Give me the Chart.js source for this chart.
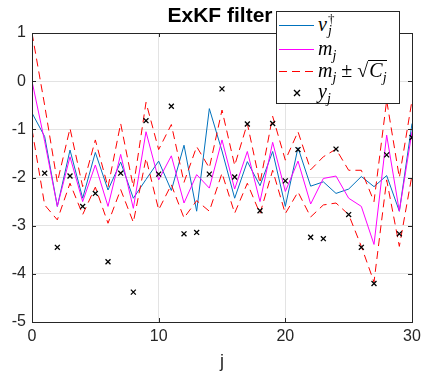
<!DOCTYPE html>
<html>
<head>
<meta charset="utf-8">
<script src="https://cdn.jsdelivr.net/npm/chart.js@4/dist/chart.umd.min.js"></script>
<style>
  html, body { margin: 0; padding: 0; background: #fff; }
  #wrap { position: relative; width: 422px; height: 377px; }
  #title { position: absolute; left: 30px; width: 380px; top: 3px; text-align: center;
           font: bold 21px "Liberation Sans", Arial, sans-serif; color: #000; }
  #legend { position: absolute; left: 276px; top: 11px; width: 124px; height: 93px; box-sizing: border-box;
            background: #fff; border: 1px solid #262626; font: italic 20px "Liberation Serif", "DejaVu Serif", serif; color: #000; }
  #legend svg { position: absolute; left: 0; top: 0; }
  .lbl { position: absolute; left: 41px; white-space: nowrap; line-height: 20px; height: 20px; }
  .lbl sub { font-size: 14px; vertical-align: -5px; }
  .up { font-style: normal; }
  .rad { border-top: 1px solid #000; display: inline-block; line-height: 19px; padding-left: 1px; }
  .ss { display: inline-block; position: relative; width: 8px; height: 20px; vertical-align: top; }
  .ss .a { position: absolute; left: 1px; top: -5px; font-size: 13px; font-style: normal; }
  .ss .b { position: absolute; left: 1px; top: 7px; font-size: 14px; }
</style>
</head>
<body>
<div id="wrap">
  <canvas id="c" width="422" height="377"></canvas>
  <div id="title">ExKF filter</div>
  <div id="legend">
    <svg width="124" height="93">
      <line x1="2" y1="13.5" x2="37" y2="13.5" stroke="#0072BD" stroke-width="1.2"/>
      <line x1="2" y1="37.5" x2="37" y2="37.5" stroke="#ff00ff" stroke-width="1.2"/>
      <line x1="2" y1="59.5" x2="37" y2="59.5" stroke="#ff0000" stroke-width="1.2" stroke-dasharray="8,5"/>
      <path d="M17,78 L23,84 M23,78 L17,84" stroke="#000" stroke-width="1.4"/>
    </svg>
    <div class="lbl" style="top:2px">v<span class="ss"><span class="a">†</span><span class="b">j</span></span></div>
    <div class="lbl" style="top:26px">m<sub>j</sub></div>
    <div class="lbl" style="top:48px">m<sub>j</sub> <span class="up">±</span> <span class="up">√</span><span class="rad">C<sub>j</sub></span></div>
    <div class="lbl" style="top:69px">y<sub>j</sub></div>
  </div>
</div>
<script>
// step index j
const steps = [0,1,2,3,4,5,6,7,8,9,10,11,12,13,14,15,16,17,18,19,20,21,22,23,24,25,26,27,28,29,30];
// true signal v_j^dagger
const truth = [-0.66,-1.15,-2.6,-1.43,-2.43,-1.48,-2.26,-1.68,-2.43,-2.04,-1.66,-2.27,-1.33,-2.7,-0.57,-1.45,-2.43,-1.67,-2.17,-1.46,-2.6,-1.38,-2.18,-2.09,-2.33,-2.24,-1.98,-2.19,-1.96,-2.7,-0.88];
// filter mean m_j
const mean = [0,-1.25,-2.6,-1.57,-2.5,-1.74,-2.6,-1.52,-2.64,-1.05,-2.05,-1.55,-2.53,-1.94,-2.22,-1.22,-2.24,-1.46,-2.5,-1.27,-2.29,-1.66,-2.55,-2.02,-1.97,-2.43,-2.6,-3.39,-1.12,-2.7,-1.05];
// m_j + sqrt(C_j)
const upper = [1.0,-0.5,-2.1,-0.98,-2.19,-1.22,-2.2,-0.88,-2.2,-0.44,-1.42,-0.9,-2.1,-1.36,-1.8,-0.6,-1.75,-0.88,-2.12,-0.73,-1.64,-1.05,-1.84,-1.57,-1.41,-1.85,-1.85,-2.5,-0.4,-2.0,-0.4];
// m_j - sqrt(C_j)
const lower = [-1.0,-2.57,-2.88,-2.12,-2.77,-2.2,-2.95,-2.25,-2.93,-1.6,-2.67,-2.15,-2.84,-2.48,-2.7,-1.91,-2.74,-2.12,-2.75,-1.85,-2.75,-2.3,-2.82,-2.57,-2.53,-2.77,-3.43,-4.17,-2.05,-3.43,-1.95];
// observations y_j (j = 1..30)
const obsSteps = [1,2,3,4,5,6,7,8,9,10,11,12,13,14,15,16,17,18,19,20,21,22,23,24,25,26,27,28,29,30];
const obs = [-1.91,-3.45,-1.97,-2.6,-2.33,-3.75,-1.91,-4.38,-0.82,-1.93,-0.52,-3.17,-3.14,-1.93,-0.16,-1.99,-0.89,-2.69,-0.88,-2.07,-1.42,-3.24,-3.27,-1.41,-2.77,-3.45,-4.2,-1.53,-3.17,-1.17];
const xTicks = [0,10,20,30];
const yTicks = [1,0,-1,-2,-3,-4,-5];

const pts = (xs, ys) => xs.map((x, i) => ({x: x, y: ys[i]}));
const font = {family: '"Liberation Sans", Arial, sans-serif', size: 16};
const axisColor = '#262626';

const boxPlugin = {
  id: 'box',
  afterDraw(chart) {
    const {ctx, chartArea: a, scales} = chart;
    ctx.save();
    ctx.strokeStyle = axisColor;
    ctx.lineWidth = 1;
    ctx.strokeRect(Math.round(a.left) + 0.5, Math.round(a.top) + 0.5, Math.round(a.right - a.left), Math.round(a.bottom - a.top));
    ctx.beginPath();
    const tl = 4;
    xTicks.forEach(t => {
      const px = Math.round(scales.x.getPixelForValue(t)) + 0.5;
      ctx.moveTo(px, a.bottom); ctx.lineTo(px, a.bottom - tl);
      ctx.moveTo(px, a.top); ctx.lineTo(px, a.top + tl);
    });
    yTicks.forEach(t => {
      const py = Math.round(scales.y.getPixelForValue(t)) + 0.5;
      ctx.moveTo(a.left, py); ctx.lineTo(a.left + tl, py);
      ctx.moveTo(a.right, py); ctx.lineTo(a.right - tl, py);
    });
    ctx.stroke();
    ctx.restore();
  }
};

new Chart(document.getElementById('c'), {
  type: 'line',
  data: {
    datasets: [
      {label: 'y', type: 'scatter', data: pts(obsSteps, obs), showLine: false, pointStyle: 'crossRot', pointRadius: 3.5, borderColor: '#000', backgroundColor: '#000', borderWidth: 1.3, order: 0},
      {label: 'upper', data: pts(steps, upper), borderColor: '#ff0000', borderWidth: 1, borderDash: [8, 5], pointRadius: 0, fill: false, order: 1},
      {label: 'lower', data: pts(steps, lower), borderColor: '#ff0000', borderWidth: 1, borderDash: [8, 5], pointRadius: 0, fill: false, order: 1},
      {label: 'm', data: pts(steps, mean), borderColor: '#ff00ff', borderWidth: 1, pointRadius: 0, fill: false, order: 2},
      {label: 'v', data: pts(steps, truth), borderColor: '#0072BD', borderWidth: 1, pointRadius: 0, fill: false, order: 3}
    ]
  },
  options: {
    responsive: false,
    animation: false,
    layout: {padding: {top: 33, right: 10, left: 0, bottom: 0}},
    plugins: {legend: {display: false}, tooltip: {enabled: false}, title: {display: false}},
    elements: {line: {tension: 0}},
    scales: {
      x: {
        type: 'linear', min: 0, max: 30,
        afterBuildTicks: s => { s.ticks = xTicks.map(v => ({value: v})); },
        afterFit: s => { s.height = 55; s.paddingLeft = 0; s.paddingRight = 0; },
        ticks: {font: font, color: axisColor, padding: 5, maxRotation: 0},
        grid: {color: '#e3e3e3', drawTicks: false},
        border: {display: false},
        title: {display: true, text: 'j', font: {family: font.family, size: 18}, color: axisColor, padding: {top: 2}}
      },
      y: {
        type: 'linear', min: -5, max: 1,
        afterBuildTicks: s => { s.ticks = yTicks.map(v => ({value: v})); },
        afterFit: s => { s.width = 32; s.paddingTop = 0; s.paddingBottom = 0; },
        ticks: {font: font, color: axisColor, padding: 6},
        grid: {color: '#e3e3e3', drawTicks: false},
        border: {display: false}
      }
    }
  },
  plugins: [boxPlugin]
});
</script>
</body>
</html>
